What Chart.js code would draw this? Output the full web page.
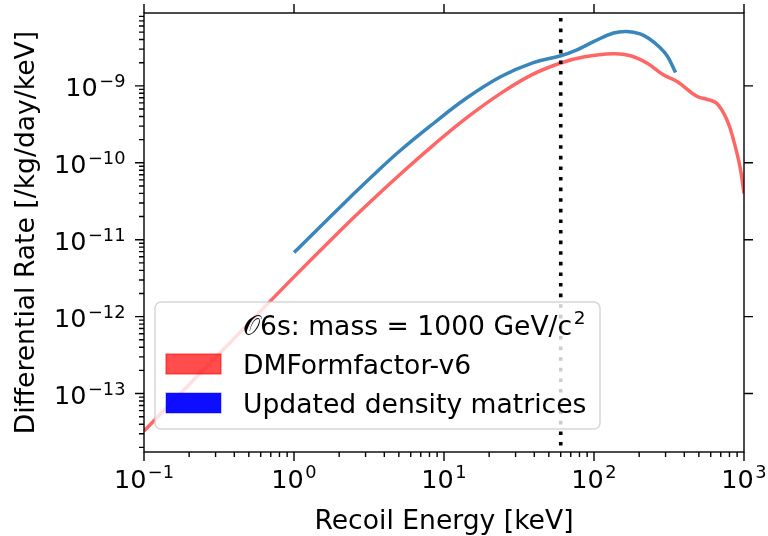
<!DOCTYPE html>
<html>
<head>
<meta charset="utf-8">
<script src="https://cdn.jsdelivr.net/npm/chart.js@4.4.1/dist/chart.umd.min.js"></script>
<style>
  html, body { margin: 0; padding: 0; background: #ffffff; }
  #wrap { width: 768px; height: 536px; }
</style>
</head>
<body>
<div id="wrap"><canvas id="c" width="768" height="536"></canvas></div>
<script>
// Recoil energy grid [keV] and differential rate [/kg/day/keV]
const energyV6 = [0.1, 0.2, 0.5, 1, 2, 3, 5, 8.5, 14, 24, 39, 60, 85, 135, 175, 225, 290, 360, 485, 565, 660, 770, 850, 940, 1000];
const rateV6   = [3.27e-14, 1.31e-13, 8.2e-13, 3.29e-12, 1.27e-11, 2.72e-11, 6.84e-11, 1.70e-10, 3.78e-10, 8.05e-10,
                  1.41e-9, 1.98e-9, 2.37e-9, 2.61e-9, 2.46e-9, 1.98e-9, 1.39e-9, 1.13e-9, 7.3e-10, 6.7e-10,
                  5.9e-10, 3.6e-10, 2.0e-10, 8.9e-11, 4.0e-11];

const energyUpdated = [1, 2.2, 3.5, 5, 8.5, 14, 24, 39, 60, 77, 100, 135, 165, 203, 236, 267, 307, 350];
const rateUpdated   = [6.8e-12, 3.10e-11, 7.35e-11, 1.39e-10, 3.24e-10, 6.84e-10, 1.32e-9, 1.99e-9, 2.46e-9, 2.94e-9,
                       3.78e-9, 4.86e-9, 5.1e-9, 4.75e-9, 4.04e-9, 3.32e-9, 2.46e-9, 1.49e-9];

// Vertical marker (keV)
const thresholdEnergy = 60;

// Axis ranges and decade tick labels
const xRange = [0.1, 1000];
const yRange = [1.74e-14, 8.85e-9];
const xDecades = [-1, 0, 1, 2, 3];
const yDecades = [-13, -12, -11, -10, -9];

const seriesLabels = ['DMFormfactor-v6', 'Updated density matrices'];
const legendHeading = ['\u{1D4AA}6s: mass = 1000 GeV/c', '2'];
const xTitle = 'Recoil Energy [keV]';
const yTitle = 'Differential Rate [/kg/day/keV]';

const FONT = '"DejaVu Sans", sans-serif';
const TICK_PX = 25.5, SUP_PX = 17.8, LEGEND_PX = 26.6, TITLE_PX = 26.6;
const toPoints = (xs, ys) => xs.map((x, i) => ({ x, y: ys[i] }));
const supText = n => (n < 0 ? '\u2212' + Math.abs(n) : String(n));

function powerLabel(ctx, x, y, exp, mode) {
  // mode 'right': right edge at x, vertically centred on y; 'top': centred on x, top at y
  ctx.font = TICK_PX + 'px ' + FONT;
  const wb = ctx.measureText('10').width;
  ctx.font = SUP_PX + 'px ' + FONT;
  const we = ctx.measureText(supText(exp)).width;
  const gap = 1.5;
  const total = wb + gap + we;
  let x0, base;
  if (mode === 'right') { x0 = x - total; base = y + 10.6; }
  else { x0 = x - total / 2; base = y + 21.2; }
  ctx.textAlign = 'left';
  ctx.textBaseline = 'alphabetic';
  ctx.fillStyle = '#000';
  ctx.font = TICK_PX + 'px ' + FONT;
  ctx.fillText('10', x0, base);
  ctx.font = SUP_PX + 'px ' + FONT;
  ctx.fillText(supText(exp), x0 + wb + gap, base - 9.6);
}

const markerLine = {
  id: 'markerLine',
  afterDatasetsDraw(chart) {
    const { ctx, chartArea: a, scales: { x } } = chart;
    const px = x.getPixelForValue(thresholdEnergy);
    ctx.save();
    ctx.strokeStyle = '#000';
    ctx.lineWidth = 3.6;
    ctx.setLineDash([3.6, 7.0]);
    ctx.lineDashOffset = -5;
    ctx.beginPath();
    ctx.moveTo(px, a.top);
    ctx.lineTo(px, a.bottom);
    ctx.stroke();
    ctx.restore();
  }
};

const legendBox = {
  id: 'legendBox',
  afterDatasetsDraw(chart) {
    const { ctx } = chart;
    const bx = 155, by = 302, bw = 445, bh = 127, r = 6;
    ctx.save();
    ctx.beginPath();
    ctx.roundRect(bx, by, bw, bh, r);
    ctx.fillStyle = 'rgba(255,255,255,0.8)';
    ctx.fill();
    ctx.lineWidth = 1.5;
    ctx.strokeStyle = 'rgba(204,204,204,0.8)';
    ctx.stroke();

    const textX = 243;
    ctx.fillStyle = '#000';
    ctx.textBaseline = 'alphabetic';
    ctx.textAlign = 'left';
    ctx.font = LEGEND_PX + 'px ' + FONT;
    ctx.fillText(legendHeading[0], textX, 334.5);
    const w = ctx.measureText(legendHeading[0]).width;
    ctx.font = '18.5px ' + FONT;
    ctx.fillText(legendHeading[1], textX + w + 1.5, 324);

    const rows = [
      { y: 354, fill: 'rgba(255,0,0,0.7)', edge: 'rgba(255,0,0,0.55)', label: chart.data.datasets[0].label },
      { y: 393, fill: 'rgba(0,0,255,0.95)', edge: 'rgba(0,0,255,0.35)', label: chart.data.datasets[1].label }
    ];
    rows.forEach(rw => {
      ctx.fillStyle = rw.fill;
      ctx.fillRect(166, rw.y, 55, 20);
      ctx.lineWidth = 1.3;
      ctx.strokeStyle = rw.edge;
      ctx.strokeRect(166, rw.y, 55, 20);
      ctx.fillStyle = '#000';
      ctx.font = LEGEND_PX + 'px ' + FONT;
      ctx.fillText(rw.label, textX, rw.y + 19.5);
    });
    ctx.restore();
  }
};

const axesFrame = {
  id: 'axesFrame',
  afterDraw(chart) {
    const { ctx, chartArea: a, scales: { x, y } } = chart;
    ctx.save();
    ctx.strokeStyle = '#000';
    ctx.lineWidth = 1.4;
    ctx.strokeRect(a.left, a.top, a.right - a.left, a.bottom - a.top);

    const MAJ = 9, MIN = 5;
    ctx.beginPath();
    // bottom / top
    for (let d = -1; d <= 3; d++) {
      for (let k = 1; k <= 9; k++) {
        const v = k * Math.pow(10, d);
        if (v < xRange[0] * 0.999 || v > xRange[1] * 1.001) continue;
        const px = x.getPixelForValue(v);
        const len = k === 1 ? MAJ : MIN;
        ctx.moveTo(px, a.bottom); ctx.lineTo(px, a.bottom + len);
        if (k === 1) { ctx.moveTo(px, a.top); ctx.lineTo(px, a.top - MAJ); }
      }
    }
    // left / right
    for (let d = -14; d <= -9; d++) {
      for (let k = 1; k <= 9; k++) {
        const v = k * Math.pow(10, d);
        if (v < yRange[0] || v > yRange[1]) continue;
        const py = y.getPixelForValue(v);
        const len = k === 1 ? MAJ : MIN;
        ctx.moveTo(a.left, py); ctx.lineTo(a.left - len, py);
        if (k === 1) { ctx.moveTo(a.right, py); ctx.lineTo(a.right + MAJ, py); }
      }
    }
    ctx.stroke();

    xDecades.forEach(d => powerLabel(ctx, x.getPixelForValue(Math.pow(10, d)), a.bottom + 14.5, d, 'top'));
    yDecades.forEach(d => powerLabel(ctx, a.left - 18.5, y.getPixelForValue(Math.pow(10, d)), d, 'right'));

    ctx.fillStyle = '#000';
    ctx.font = TITLE_PX + 'px ' + FONT;
    ctx.textAlign = 'center';
    ctx.textBaseline = 'alphabetic';
    ctx.fillText(xTitle, (a.left + a.right) / 2, 529);

    ctx.translate(33.5, (a.top + a.bottom) / 2);
    ctx.rotate(-Math.PI / 2);
    ctx.fillText(yTitle, 0, 0);
    ctx.restore();
  }
};

new Chart(document.getElementById('c'), {
  type: 'line',
  data: {
    datasets: [
      {
        label: seriesLabels[0],
        data: toPoints(energyV6, rateV6),
        borderColor: 'rgba(255,25,25,0.66)',
        borderWidth: 3.5,
        pointRadius: 0,
        tension: 0.4,
        fill: false
      },
      {
        label: seriesLabels[1],
        data: toPoints(energyUpdated, rateUpdated),
        borderColor: '#3a86bb',
        borderWidth: 3.5,
        pointRadius: 0,
        tension: 0.4,
        fill: false
      }
    ]
  },
  options: {
    responsive: false,
    animation: false,
    devicePixelRatio: 1,
    layout: { padding: { left: 144, right: 24, top: 13, bottom: 84 } },
    scales: {
      x: { type: 'logarithmic', min: xRange[0], max: xRange[1], display: false },
      y: { type: 'logarithmic', min: yRange[0], max: yRange[1], display: false }
    },
    plugins: { legend: { display: false }, tooltip: { enabled: false } }
  },
  plugins: [markerLine, legendBox, axesFrame]
});
</script>
</body>
</html>
